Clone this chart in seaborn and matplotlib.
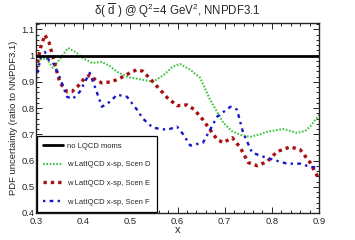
import matplotlib
matplotlib.use("Agg")
import matplotlib.pyplot as plt
from matplotlib.ticker import MultipleLocator, FormatStrFormatter
import seaborn as sns
import pandas as pd

# Scen D (green)
x_d = [0.300, 0.308, 0.322, 0.336, 0.350, 0.368, 0.385, 0.400, 0.419, 0.440, 0.455,
       0.472, 0.495, 0.520, 0.548, 0.570, 0.590, 0.605, 0.627, 0.648, 0.669, 0.697,
       0.715, 0.733, 0.754, 0.775, 0.790, 0.824, 0.853, 0.870, 0.881, 0.900]
y_d = [0.950, 0.984, 0.990, 0.953, 0.985, 1.029, 1.012, 0.990, 0.972, 0.976, 0.962,
       0.938, 0.918, 0.910, 0.900, 0.925, 0.958, 0.968, 0.946, 0.915, 0.832, 0.744,
       0.712, 0.698, 0.690, 0.700, 0.710, 0.720, 0.706, 0.712, 0.730, 0.774]

# Scen E (red)
x_e = [0.300, 0.310, 0.319, 0.328, 0.336, 0.351, 0.366, 0.376, 0.390, 0.400, 0.414,
       0.428, 0.440, 0.461, 0.484, 0.500, 0.514, 0.527, 0.548, 0.578, 0.599, 0.620,
       0.635, 0.654, 0.684, 0.697, 0.716, 0.733, 0.750, 0.769, 0.790, 0.811, 0.839,
       0.860, 0.881, 0.900]
y_e = [0.946, 1.030, 1.079, 1.050, 0.995, 0.896, 0.862, 0.862, 0.885, 0.907, 0.926,
       0.905, 0.896, 0.900, 0.919, 0.935, 0.946, 0.940, 0.900, 0.840, 0.809, 0.812,
       0.795, 0.755, 0.680, 0.668, 0.687, 0.649, 0.592, 0.580, 0.596, 0.634, 0.652,
       0.641, 0.592, 0.527]

# Scen F (blue)
x_f = [0.300, 0.310, 0.319, 0.327, 0.336, 0.351, 0.366, 0.378, 0.393, 0.414, 0.425,
       0.440, 0.457, 0.472, 0.493, 0.514, 0.527, 0.548, 0.578, 0.599, 0.612, 0.627,
       0.654, 0.684, 0.712, 0.726, 0.739, 0.758, 0.781, 0.803, 0.832, 0.860, 0.881,
       0.900]
y_f = [0.908, 0.990, 1.014, 0.984, 0.975, 0.915, 0.843, 0.835, 0.862, 0.934, 0.881,
       0.805, 0.824, 0.851, 0.843, 0.794, 0.759, 0.725, 0.717, 0.729, 0.700, 0.657,
       0.668, 0.767, 0.805, 0.794, 0.706, 0.630, 0.615, 0.603, 0.588, 0.588, 0.576,
       0.573]

labels = ["no LQCD moms", "w LattQCD x-sp, Scen D",
          "w LattQCD x-sp, Scen E", "w LattQCD x-sp, Scen F"]

sns.set_style("ticks")
plt.rcParams["font.family"] = ["Liberation Sans", "DejaVu Sans"]
plt.rcParams["mathtext.fontset"] = "custom"
plt.rcParams["mathtext.rm"] = "Liberation Sans"
plt.rcParams["mathtext.it"] = "Liberation Sans:italic"

fig = plt.figure(figsize=(3.55, 2.4), dpi=100)
ax = fig.add_axes([0.101, 0.1125, 0.798, 0.7915])

ax.axhline(1.0, color="black", lw=2.0, label=labels[0], zorder=3)

df_d = pd.DataFrame({"x": x_d, "y": y_d})
df_e = pd.DataFrame({"x": x_e, "y": y_e})
df_f = pd.DataFrame({"x": x_f, "y": y_f})

sns.lineplot(data=df_d, x="x", y="y", ax=ax, sort=False, estimator=None,
             color="#3fc43f", lw=1.5, linestyle=(0, (0.8, 0.8)), label=labels[1])
sns.lineplot(data=df_e, x="x", y="y", ax=ax, sort=False, estimator=None,
             color="#a81010", lw=2.4, linestyle=(0, (1, 1.2)), label=labels[2])
sns.lineplot(data=df_f, x="x", y="y", ax=ax, sort=False, estimator=None,
             color="#1818c8", lw=1.7, linestyle=(0, (1, 1.8, 1.6, 1.8)), label=labels[3])

ax.set_xlim(0.3, 0.9)
ax.set_ylim(0.4, 1.124)
ax.xaxis.set_major_locator(MultipleLocator(0.1))
ax.xaxis.set_minor_locator(MultipleLocator(0.02))
ax.yaxis.set_major_locator(MultipleLocator(0.1))
ax.yaxis.set_minor_locator(MultipleLocator(0.02))
ax.xaxis.set_major_formatter(FormatStrFormatter("%g"))
ax.yaxis.set_major_formatter(FormatStrFormatter("%g"))
ax.tick_params(which="both", direction="in", top=True, right=True,
               labelsize=6.8, width=0.7)
ax.tick_params(axis="x", pad=3)
ax.tick_params(axis="y", pad=1)
ax.tick_params(which="major", length=4)
ax.tick_params(which="minor", length=2)
for s in ax.spines.values():
    s.set_linewidth(1.0)

ax.set_xlabel("x", fontsize=8, labelpad=-1)
ax.set_ylabel("PDF uncertainty (ratio to NNPDF3.1)", fontsize=6.8, labelpad=2)
ax.set_title(r"δ( $\overline{\mathrm{d}}$ ) @ Q$^2$=4 GeV$^2$, NNPDF3.1",
             fontsize=8.3, pad=6)

leg = ax.legend(loc="lower left", bbox_to_anchor=(0.004, 0.003), fontsize=5.5,
                frameon=True, fancybox=False, edgecolor="black", framealpha=1,
                handlelength=2.6, handletextpad=0.5, labelspacing=1.5,
                borderpad=0.85, borderaxespad=0)
leg.get_frame().set_linewidth(0.9)

fig.savefig("out.png", dpi=100)
